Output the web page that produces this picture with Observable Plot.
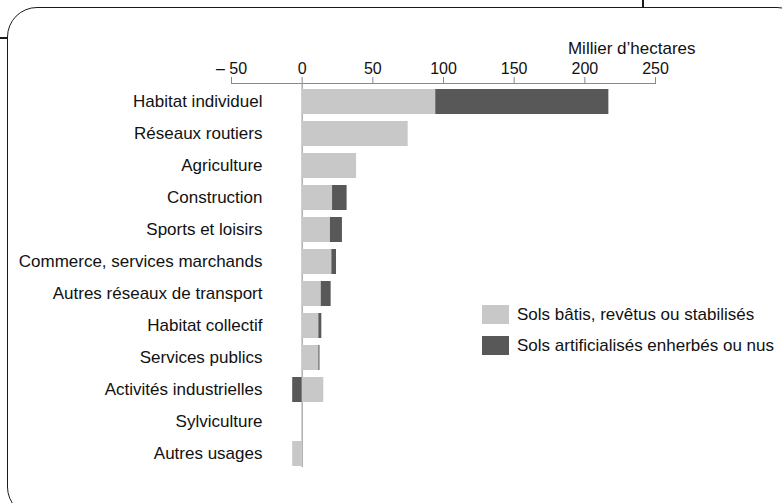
<!DOCTYPE html>
<html>
<head>
<meta charset="utf-8">
<script src="https://cdn.jsdelivr.net/npm/d3@7"></script>
<script src="https://cdn.jsdelivr.net/npm/@observablehq/plot@0.6"></script>
<style>
  html, body { margin: 0; padding: 0; background: #fff; }
  #wrap { position: relative; width: 782px; height: 503px; overflow: hidden; background: #fff;
          font-family: "Liberation Sans", Arial, Helvetica, sans-serif; color: #111; }
  #wrap svg { position: absolute; left: 0; top: 0; }
  .box { position: absolute; left: 7px; top: 7px; width: 800px; height: 510px;
         border: 1.5px solid #1a1a1a; border-radius: 30px; box-sizing: border-box; }
  .tick1 { position: absolute; left: 0; top: 37px; width: 8px; height: 1.5px; background: #1a1a1a; }
  .tick2 { position: absolute; left: 642px; top: 0; width: 1.5px; height: 8px; background: #1a1a1a; }
  .legend { position: absolute; left: 482px; top: 299px; font-size: 17px; }
  .legend .row { display: flex; align-items: center; height: 31px; }
  .legend .sw { width: 27px; height: 19px; margin-right: 8px; }
</style>
</head>
<body>
<div id="wrap">
  <div class="box"></div>
  <div class="tick1"></div>
  <div class="tick2"></div>
</div>
<script>
const categories = [
  "Habitat individuel", "Réseaux routiers", "Agriculture", "Construction",
  "Sports et loisirs", "Commerce, services marchands", "Autres réseaux de transport",
  "Habitat collectif", "Services publics", "Activités industrielles",
  "Sylviculture", "Autres usages"
];
const series = ["Sols bâtis, revêtus ou stabilisés", "Sols artificialisés enherbés ou nus"];
const batis    = [94.5, 75, 38.5, 21.5, 20, 21, 13.5, 11.8, 11.8, 15.3, 0, -6.7];
const enherbes = [122.5, 0, 0, 10.3, 8.5, 3.3, 7, 2.1, 0.8, -6.7, 0, 0];
const xTicks = [-50, 0, 50, 100, 150, 200, 250];
const unitLabel = "Millier d’hectares";
const colors = ["#c8c8c8", "#585858"];

const data = [];
categories.forEach((c, i) => {
  data.push({cat: c, serie: series[0], value: batis[i]});
  data.push({cat: c, serie: series[1], value: enherbes[i]});
});

const chart = Plot.plot({
  width: 782,
  height: 503,
  marginTop: 83,
  marginLeft: 231,
  marginRight: 127,
  marginBottom: 36,
  style: {fontFamily: "'Liberation Sans', Arial, Helvetica, sans-serif", fontSize: "17px", color: "#111", background: "transparent"},
  x: {domain: [-50, 250]},
  y: {domain: categories, range: [83, 471], paddingInner: 0.22, paddingOuter: 0.1725},
  color: {domain: series, range: colors},
  marks: [
    Plot.frame({anchor: "top", stroke: "#8a8a8a", strokeWidth: 1}),
    Plot.ruleX([0], {stroke: "#9a9a9a", strokeWidth: 1.2}),
    Plot.barX(data, Plot.stackX({x: "value", y: "cat", fill: "serie", z: "serie", order: series})),
    Plot.axisX({anchor: "top", ticks: xTicks, tickSize: 7, tickPadding: 3, stroke: "#8a8a8a",
                fontSize: 16, label: null,
                tickFormat: d => d < 0 ? "– " + Math.abs(d) : String(d)}),
    Plot.axisY({anchor: "left", tickSize: 0, tickPadding: 0, dx: 31, label: null, fontSize: 17}),
    Plot.text([unitLabel], {frameAnchor: "top-right", dx: 40, dy: -35, textAnchor: "end", lineAnchor: "middle", fontSize: 17, fill: "#111"})
  ]
});

const wrap = document.getElementById("wrap");
wrap.appendChild(chart);

const color = chart.scale("color");
const leg = document.createElement("div");
leg.className = "legend";
series.forEach((s, i) => {
  const row = document.createElement("div");
  row.className = "row";
  const sw = document.createElement("div");
  sw.className = "sw";
  sw.style.background = color.range[i];
  const t = document.createElement("span");
  t.textContent = s;
  row.appendChild(sw);
  row.appendChild(t);
  leg.appendChild(row);
});
wrap.appendChild(leg);
</script>
</body>
</html>
